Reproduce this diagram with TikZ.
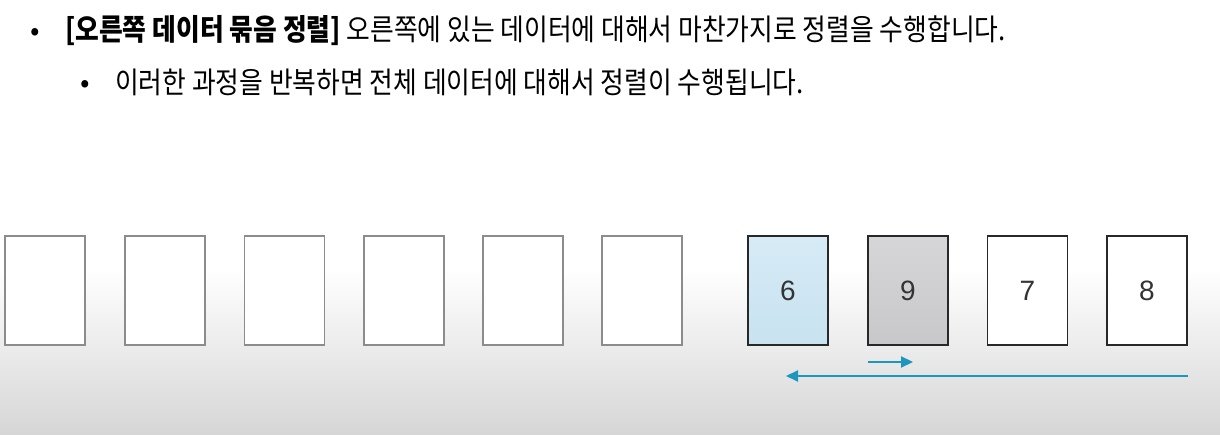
\documentclass[tikz,border=0pt]{standalone}
\usepackage{fontspec}
\setmainfont{Liberation Sans}
\newfontfamily\krfont{Noto Sans CJK KR}
\usetikzlibrary{arrows.meta}
\definecolor{arrowteal}{RGB}{28,150,190}
\definecolor{bgbottom}{RGB}{214,214,214}
\definecolor{emptyline}{RGB}{140,140,140}
\definecolor{cardline}{RGB}{40,40,40}
\definecolor{bluetop}{RGB}{214,235,246}
\definecolor{bluebot}{RGB}{200,226,240}
\definecolor{graytop}{RGB}{214,214,216}
\definecolor{graybot}{RGB}{200,200,202}
\tikzset{
  emptycard/.style={draw=emptyline, line width=1.8pt, fill=white, minimum width=80pt, minimum height=109pt, inner sep=0pt},
  card/.style={draw=cardline, line width=1.8pt, fill=white, minimum width=80pt, minimum height=109pt, inner sep=0pt, font=\fontsize{28}{32}\selectfont, text=black!80},
  bluecard/.style={card, fill=none, top color=bluetop, bottom color=bluebot},
  graycard/.style={card, fill=none, top color=graytop, bottom color=graybot},
  krtext/.style={anchor=base west, inner sep=0pt, font=\krfont\fontsize{25.8}{30}\selectfont, text=black},
  bulletmark/.style={anchor=base, inner sep=0pt, font=\krfont\fontsize{28}{30}\selectfont, text=black},
  flowarrow/.style={draw=arrowteal, line width=2pt, -{Triangle[length=12pt,width=11pt]}}
}
\begin{document}
\begin{tikzpicture}[x=1pt,y=-1pt]
\useasboundingbox (0,0) rectangle (1220,435);
\fill[white] (0,0) rectangle (1220,435);
\shade[top color=white, bottom color=bgbottom] (0,268) rectangle (1220,435);

% text
\node[bulletmark] (b1) at (35,41) {•};
\node[krtext] (t1) at (65,41) {\scalebox{1}[1.15]{{\bfseries [오른쪽 데이터 묶음 정렬]} 오른쪽에 있는 데이터에 대해서 마찬가지로 정렬을 수행합니다.}};
\node[bulletmark] (b2) at (85,93) {•};
\node[krtext] (t2) at (115,94) {\scalebox{1}[1.15]{이러한 과정을 반복하면 전체 데이터에 대해서 정렬이 수행됩니다.}};

% empty cards
\node[emptycard] (e1) at (45,290.5) {};
\node[emptycard] (e2) at (165,290.5) {};
\node[emptycard] (e3) at (284.5,290.5) {};
\node[emptycard] (e4) at (404,290.5) {};
\node[emptycard] (e5) at (523,290.5) {};
\node[emptycard] (e6) at (642,290.5) {};

% data cards
\node[bluecard] (c6) at (788,290.5) {6};
\node[graycard] (c9) at (908,290.5) {9};
\node[card] (c7) at (1027.5,290.5) {7};
\node[card] (c8) at (1147,290.5) {8};

% arrows
\coordinate (s1) at (868,362);
\coordinate (s2) at (913,362);
\coordinate (l1) at (1188,376);
\coordinate (l2) at (786,376);
\draw[flowarrow] (s1) -- (s2);
\draw[flowarrow] (l1) -- (l2);
\end{tikzpicture}
\end{document}
